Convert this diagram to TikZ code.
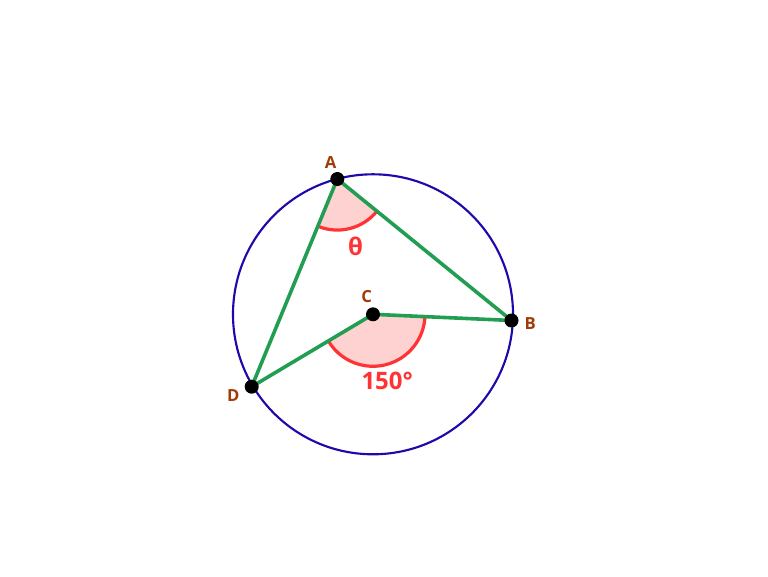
\documentclass[tikz,border=0pt]{standalone}
\usepackage{fontspec}
\setmainfont{Open Sans}
\usetikzlibrary{angles}
\definecolor{circblue}{RGB}{30,10,170}
\definecolor{seggreen}{RGB}{34,158,82}
\definecolor{lblbrown}{RGB}{160,60,10}
\definecolor{angred}{RGB}{255,51,51}
\definecolor{angfill}{RGB}{255,210,210}
\tikzset{
  pt/.style={circle, fill=black, inner sep=0pt, minimum size=10.5pt},
  lbl/.style={text=lblbrown, font=\fontsize{12.5}{14}\selectfont\bfseries, inner sep=0pt},
  anglbl/.style={text=angred, font=\fontsize{18}{20}\selectfont\bfseries, inner sep=0pt},
  seg/.style={draw=seggreen, line width=2.7pt},
  circ/.style={draw=circblue, line width=1.6pt},
  wedge/.style={draw=angred, fill=angfill, line width=2.4pt}
}
\begin{document}
\begin{tikzpicture}[x=0.75pt,y=0.75pt]
\useasboundingbox (0,0) rectangle (768,576);
\coordinate (C) at (373,261.7);
\coordinate (A) at (337.3,397);
\coordinate (B) at (511.5,255.5);
\coordinate (D) at (251.7,189.3);
\draw[circ] (C) circle[radius=140];
\pic[wedge, angle radius=39pt] {angle=D--C--B};
\pic[wedge, angle radius=38.3pt] {angle=D--A--B};
\draw[seg] (A) -- (B) -- (C) -- (D) -- cycle;
\node[pt] (pA) at (A) {};
\node[pt] (pB) at (B) {};
\node[pt] (pC) at (C) {};
\node[pt] (pD) at (D) {};
\node[lbl] (lA) at (330.5,413.5) {A};
\node[lbl] (lB) at (530.3,252.5) {B};
\node[lbl] (lC) at (366.7,279) {C};
\node[lbl] (lD) at (233.3,180) {D};
\node[anglbl] (th) at (355.5,329.5) {θ};
\node[anglbl] (ang) at (387.2,194.6) {150°};
\end{tikzpicture}
\end{document}
